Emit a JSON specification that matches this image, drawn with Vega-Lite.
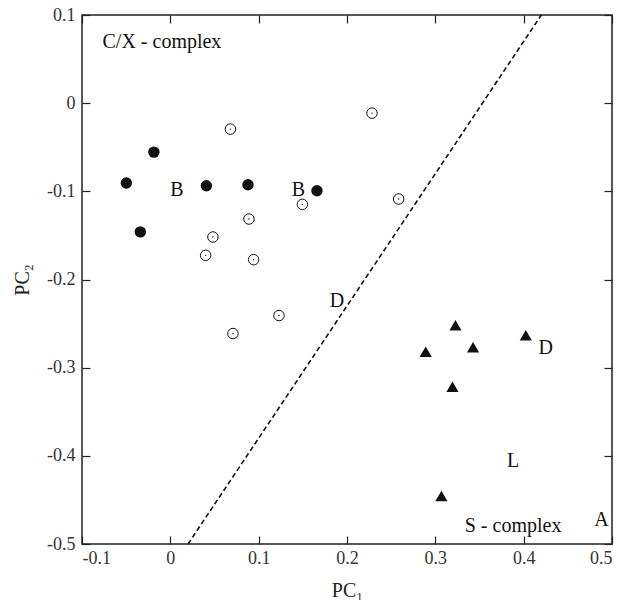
{
  "$schema": "https://vega.github.io/schema/vega-lite/v6.json",
  "width": 530,
  "height": 529,
  "autosize": "none",
  "padding": {"left": 82, "top": 15, "right": 10, "bottom": 56},
  "background": "white",
  "config": {
    "font": "Liberation Serif",
    "view": {"stroke": "#222", "strokeWidth": 1.5},
    "axis": {
      "domain": false,
      "grid": false,
      "tickSize": 8,
      "offset": -8,
      "tickColor": "#222",
      "tickWidth": 1.2,
      "labelFont": "Liberation Serif",
      "labelFontSize": 18,
      "labelColor": "#333",
      "titleFont": "Liberation Serif",
      "titleFontSize": 20,
      "titleFontWeight": "normal",
      "titleColor": "#222"
    }
  },
  "datasets": {
    "points": [
      {"pc1": -0.0498, "pc2": -0.0906, "group": "filled"},
      {"pc1": -0.0186, "pc2": -0.0555, "group": "filled"},
      {"pc1": -0.034, "pc2": -0.146, "group": "filled"},
      {"pc1": 0.0408, "pc2": -0.0937, "group": "filled"},
      {"pc1": 0.0879, "pc2": -0.0925, "group": "filled"},
      {"pc1": 0.166, "pc2": -0.0993, "group": "filled"},
      {"pc1": 0.068, "pc2": -0.0294, "group": "open"},
      {"pc1": 0.1495, "pc2": -0.1148, "group": "open"},
      {"pc1": 0.089, "pc2": -0.1314, "group": "open"},
      {"pc1": 0.0482, "pc2": -0.1518, "group": "open"},
      {"pc1": 0.2283, "pc2": -0.0113, "group": "open"},
      {"pc1": 0.2585, "pc2": -0.1087, "group": "open"},
      {"pc1": 0.04, "pc2": -0.1726, "group": "open"},
      {"pc1": 0.0943, "pc2": -0.1775, "group": "open"},
      {"pc1": 0.123, "pc2": -0.2409, "group": "open"},
      {"pc1": 0.0709, "pc2": -0.2613, "group": "open"},
      {"pc1": 0.3228, "pc2": -0.2519, "group": "triangle"},
      {"pc1": 0.2891, "pc2": -0.282, "group": "triangle"},
      {"pc1": 0.3427, "pc2": -0.2768, "group": "triangle"},
      {"pc1": 0.4024, "pc2": -0.2632, "group": "triangle"},
      {"pc1": 0.3194, "pc2": -0.3216, "group": "triangle"},
      {"pc1": 0.3069, "pc2": -0.4455, "group": "triangle"}
    ],
    "labels": [
      {"pc1": -0.0095, "pc2": 0.0698, "label": "C/X - complex"},
      {"pc1": 0.0075, "pc2": -0.099, "label": "B"},
      {"pc1": 0.145, "pc2": -0.099, "label": "B"},
      {"pc1": 0.1887, "pc2": -0.2247, "label": "D"},
      {"pc1": 0.425, "pc2": -0.2775, "label": "D"},
      {"pc1": 0.388, "pc2": -0.406, "label": "L"},
      {"pc1": 0.388, "pc2": -0.4795, "label": "S - complex"},
      {"pc1": 0.488, "pc2": -0.4728, "label": "A"}
    ],
    "boundary": [
      {"pc1": 0.02, "pc2": -0.5},
      {"pc1": 0.42, "pc2": 0.1}
    ]
  },
  "layer": [
    {
      "data": {"name": "points"},
      "transform": [{"filter": "datum.group == 'filled'"}],
      "mark": {"type": "point", "shape": "circle", "filled": true, "color": "#111", "size": 130, "opacity": 1},
      "encoding": {
        "x": {"field": "pc1", "type": "quantitative", "scale": {"domain": [-0.1, 0.5], "nice": false, "zero": false},
              "axis": {"orient": "bottom", "values": [-0.1, 0, 0.1, 0.2, 0.3, 0.4, 0.5], "labelExpr": "toString(datum.value)", "labelFont": "Liberation Serif", "labelPadding": 5, "title": "PC₁", "titleY": 54, "titleBaseline": "middle"}},
        "y": {"field": "pc2", "type": "quantitative", "scale": {"domain": [-0.5, 0.1], "nice": false, "zero": false},
              "axis": {"orient": "left", "values": [-0.5, -0.4, -0.3, -0.2, -0.1, 0, 0.1], "labelExpr": "toString(datum.value)", "labelFont": "Liberation Serif", "labelPadding": 7, "title": "PC₂", "titleX": -68, "titleBaseline": "middle"}}
      }
    },
    {
      "data": {"name": "points"},
      "transform": [{"filter": "datum.group == 'open'"}],
      "mark": {"type": "point", "shape": "circle", "filled": false, "stroke": "#111", "strokeWidth": 1, "size": 110, "opacity": 1},
      "encoding": {
        "x": {"field": "pc1", "type": "quantitative", "axis": null},
        "y": {"field": "pc2", "type": "quantitative", "axis": null}
      }
    },
    {
      "data": {"name": "points"},
      "transform": [{"filter": "datum.group == 'open'"}],
      "mark": {"type": "point", "shape": "circle", "filled": true, "color": "#111", "size": 2, "opacity": 1},
      "encoding": {
        "x": {"field": "pc1", "type": "quantitative", "axis": null},
        "y": {"field": "pc2", "type": "quantitative", "axis": null}
      }
    },
    {
      "data": {"name": "points"},
      "transform": [{"filter": "datum.group == 'triangle'"}],
      "mark": {"type": "point", "shape": "triangle-up", "filled": true, "color": "#111", "size": 150, "opacity": 1},
      "encoding": {
        "x": {"field": "pc1", "type": "quantitative", "axis": null},
        "y": {"field": "pc2", "type": "quantitative", "axis": null}
      }
    },
    {
      "data": {"name": "labels"},
      "mark": {"type": "text", "font": "Liberation Serif", "fontSize": 20, "color": "#111", "baseline": "middle", "align": "center"},
      "encoding": {
        "x": {"field": "pc1", "type": "quantitative", "axis": null},
        "y": {"field": "pc2", "type": "quantitative", "axis": null},
        "text": {"field": "label"}
      }
    },
    {
      "data": {"name": "boundary"},
      "mark": {"type": "line", "color": "#111", "strokeWidth": 1.6, "strokeDash": [5, 3]},
      "encoding": {
        "x": {"field": "pc1", "type": "quantitative",
              "axis": {"orient": "top", "values": [-0.1, 0, 0.1, 0.2, 0.3, 0.4, 0.5], "labels": false, "title": null}},
        "y": {"field": "pc2", "type": "quantitative",
              "axis": {"orient": "right", "values": [-0.5, -0.4, -0.3, -0.2, -0.1, 0, 0.1], "labels": false, "title": null}}
      }
    }
  ],
  "resolve": {"axis": {"x": "independent", "y": "independent"}}
}
